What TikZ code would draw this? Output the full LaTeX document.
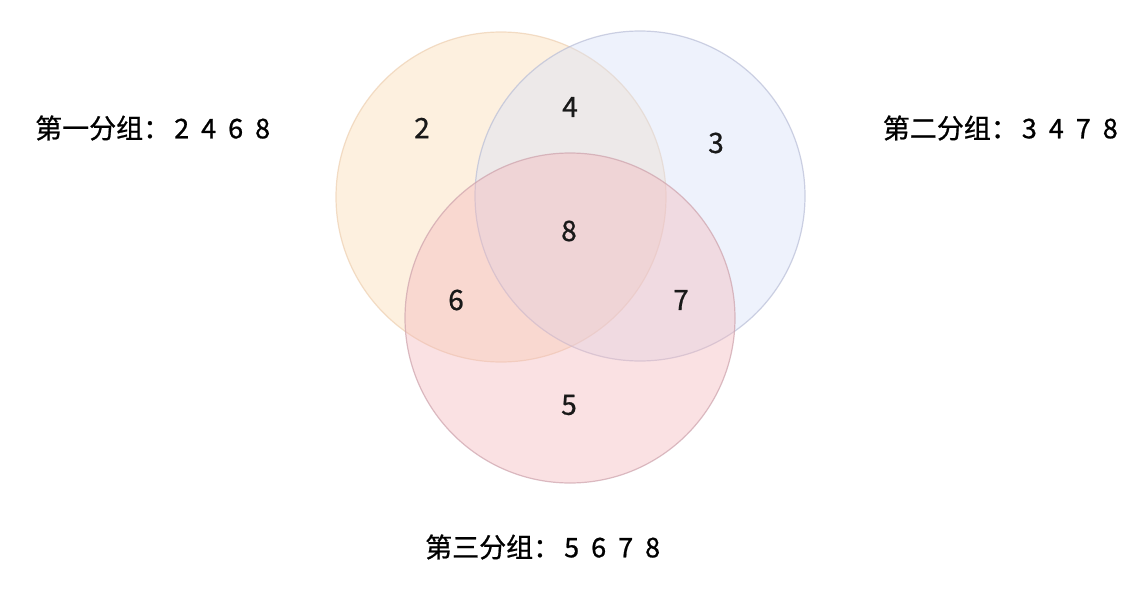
\documentclass[tikz,border=0pt]{standalone}
\usepackage{fontspec}
\setmainfont[FakeBold=0.8]{Noto Sans CJK SC}
\newcommand{\dsp}{\hspace{12pt}}
\begin{document}
\begin{tikzpicture}[x=1pt,y=-1pt,
  setc/.style={circle,minimum size=330pt,inner sep=0pt,line width=1.2pt,fill opacity=0.4,draw opacity=0.7},
  num/.style={font=\fontsize{28}{30}\selectfont,text=black!90},
  lab/.style={font=\fontsize{27}{30}\selectfont,text=black,inner sep=0pt}]
\useasboundingbox[fill=white] (0,0) rectangle (1140,589);
\node[setc,fill={rgb,255:red,252;green,218;blue,175},draw={rgb,255:red,238;green,208;blue,178}] (A) at (501,197) {};
\node[setc,fill={rgb,255:red,214;green,224;blue,248},draw={rgb,255:red,185;green,190;blue,215}] (B) at (640,196) {};
\node[setc,fill={rgb,255:red,244;green,182;blue,186},draw={rgb,255:red,205;green,162;blue,172}] (C) at (570,318) {};
\node[num] (n2) at (422,128) {2};
\node[num] (n4) at (570,107) {4};
\node[num] (n3) at (716,143) {3};
\node[num] (n8) at (569,231) {8};
\node[num] (n6) at (456,300) {6};
\node[num] (n7) at (681,300) {7};
\node[num] (n5) at (569,405) {5};
\node[lab,anchor=west] (l1) at (35,128) {第一分组：\hspace{4pt}2\dsp4\dsp6\dsp8};
\node[lab,anchor=east] (l2) at (1118,128) {第二分组：\hspace{4pt}3\dsp4\dsp7\dsp8};
\node[lab,anchor=west] (l3) at (425,547) {第三分组：\hspace{4pt}5\dsp6\dsp7\dsp8};
\end{tikzpicture}
\end{document}
